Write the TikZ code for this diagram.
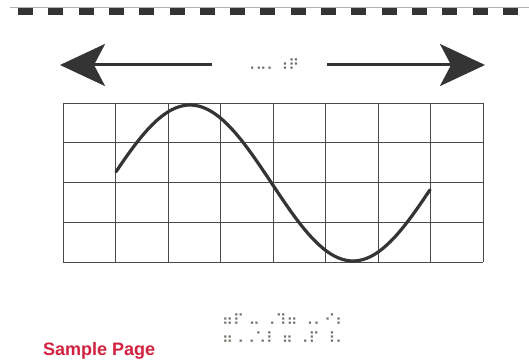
\documentclass[tikz,border=0pt]{standalone}
\usepackage{fontspec}
\usetikzlibrary{arrows.meta,positioning}
\newfontfamily\braillefont{DejaVu Sans}
\newfontfamily\labelfont{Liberation Sans}
\definecolor{inkgray}{HTML}{343434}
\definecolor{gridgray}{HTML}{4A4A4A}
\definecolor{dotgray}{HTML}{6E6E68}
\definecolor{pagered}{HTML}{D2213F}
\tikzset{
  gridline/.style={gridgray,line width=0.9pt},
  wave/.style={inkgray,line width=3.2pt,line cap=round},
  bigarrow/.style={inkgray,line width=3pt,
    arrows={Stealth[length=45pt,width=42pt,inset=11pt]-}},
  dots/.style={dotgray,font=\braillefont\fontsize{15}{18}\selectfont,align=left,inner sep=0pt}
}

\begin{document}
\begin{tikzpicture}[x=1pt,y=1pt]
\useasboundingbox (0,0) rectangle (529,361);
\fill[white] (0,0) rectangle (529,361);
% perforation at the top
\draw[gray!60,line width=0.6pt] (10,354) -- (529,354);
\foreach \k in {0,...,16}{
  \fill[inkgray] (18+30.3*\k,346) rectangle ++(15,7);
}
% arrows with the braille word
\node[dots] (axis) at (272,296) {⠠⠤⠄⠰⠟};
\coordinate (ltip) at (60,296);
\coordinate (lend) at (212,296);
\coordinate (rtip) at (485,296);
\coordinate (rend) at (327,296);
\draw[bigarrow] (ltip) -- (lend);
\draw[bigarrow] (rtip) -- (rend);
% grid
\foreach \i in {0,...,8}{
  \draw[gridline] (63+52.5*\i,99) -- (63+52.5*\i,258);
}
\foreach \j in {0,...,4}{
  \draw[gridline] (63,99+39.75*\j) -- (483,99+39.75*\j);
}
% the wave
\draw[wave] plot[domain=116:430,samples=80,smooth]
  (\x,{178-78*sin((\x-271.5)/163*180)});
% braille caption
\node[dots,anchor=north west] (caption) at (222,47) {⠶⠏ ⠤ ⠠⠹⠶ ⠠⠄⠊⠆\\⠶⠠⠠⠡⠇ ⠶ ⠠⠏ ⠸⠄};
\node[pagered,font=\labelfont\bfseries\fontsize{18}{20}\selectfont,anchor=base west,inner sep=0pt] (sample) at (43,6) {Sample Page};
\end{tikzpicture}
\end{document}
